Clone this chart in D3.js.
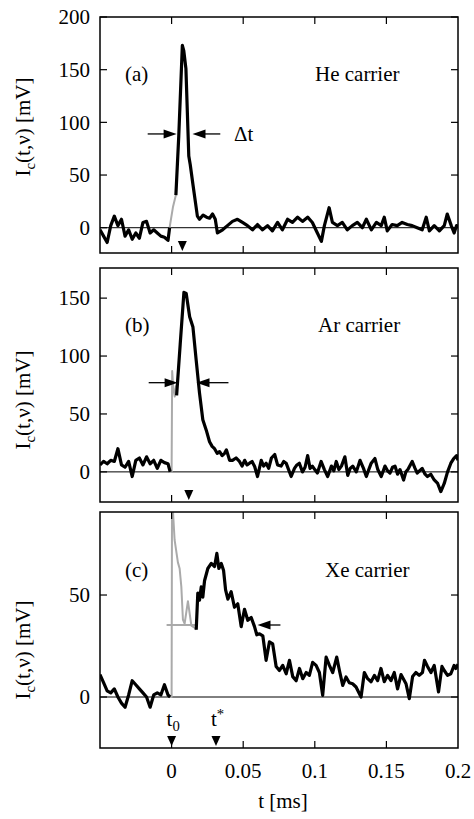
<!DOCTYPE html>
<html>
<head>
<meta charset="utf-8">
<script src="https://cdn.jsdelivr.net/npm/d3@7"></script>
<style>
  body { margin: 0; background: #fff; }
</style>
</head>
<body>
<div id="chart"></div>
<script>
// ================================
// Data (time in µs, signal in mV)
// ================================
const timeTicks = [0, 50, 100, 150];
const timeTickLabels = ['0', '0.05', '0.1', '0.15', '0.2'];
const timeLabelAt = [0, 50, 100, 150, 200];

// (a) He carrier — null marks where the gray part takes over
const heTrace = [
  [-50, -2], [-47.5, -8], [-45, -14], [-42.5, 2], [-40, 11], [-37.5, 2], [-35, 8], [-32.5, -8],
  [-30, -2], [-27.5, -11], [-25, -5], [-22.5, -10], [-20, 5], [-17.5, 6], [-15, -5], [-12.5, -2],
  [-10, -5], [-7.5, -8], [-5, -9], [-2.5, -12], [-1.4, 0], [0, null],
  [3, 31], [5, 87], [7.5, 173], [8.5, 168], [10, 151], [12, 68], [13, 60], [15, 40], [18, 11],
  [19.5, 8], [22, 12], [24.4, 10], [26.5, 9], [28.6, 13], [30.5, 8], [32, -5], [35.6, -2], [39, 2],
  [42.5, 6], [46, 8], [49.5, 5], [53, 2], [56.5, -2], [60, 3], [63.5, -2], [67, 2], [70.4, -3],
  [74, 5], [77.4, -2], [81, 8], [84.4, 5], [88, 10], [91.4, 6], [95, 10], [98.3, 5], [101.8, -5],
  [104.6, -13], [106.7, 2], [110, 19], [112.3, 5], [115.8, 2], [119.2, 5], [122.7, -2], [126.2, 2],
  [129.7, 5], [133.2, 0], [136, 8], [139.5, -2], [143, 5], [146.4, 2], [148.5, 10], [150.6, -3],
  [154, 3], [157.6, 2], [161, 5], [164.6, 3], [168, 2], [171.5, 0], [175, -2], [177.8, 10],
  [180, -3], [183.4, 2], [187, -3], [190.4, 2], [192.5, 13], [195.3, 2], [197.3, -5], [199, 2], [200, 0]
];
const heGray = [[-1.4, 0], [1, 20], [3, 31]];
const heYTicks = [0, 50, 100, 150, 200];
const heArrows = [[-16.7, 3.5], [34, 14.6]];
const heArrowLevel = 89;
const heMarkers = [7.5];

// (b) Ar carrier
const arTrace = [
  [-50, 6], [-47.5, 9], [-45, 7], [-42.5, 10], [-40, 9], [-37.5, 20], [-35, 6], [-32.5, 4], [-30, 9],
  [-27.5, -4], [-25, 10], [-22.5, 12], [-20, 6], [-17.5, 13], [-15, 7], [-12.5, 10], [-10, 3],
  [-7.5, 10], [-5, 8], [-2.5, 7], [-1, 0], [0, null],
  [3.5, 66], [6, 110], [8.6, 155], [10.2, 154], [12.6, 134], [14.9, 125], [17.2, 96], [19.5, 68],
  [21.8, 45], [24.2, 36], [26.5, 26], [28.3, 22], [30, 20], [31.8, 16], [33.5, 17.5], [35.3, 14],
  [37, 16], [38.3, 19], [40.5, 10], [42.5, 10], [45, 12], [47.4, 9], [49.2, 5], [51, 10], [52.7, 6],
  [54.4, 7.5], [56.2, 9], [58, 4.6], [60, -4], [62.6, 10], [64.3, 5], [66, 7.5], [67.8, 3], [69.7, 12],
  [72, 15], [74, 6], [76.5, 5], [78.3, 9], [80, 7.5], [81.7, 2], [83.5, -4], [85.8, 3], [87.5, 6],
  [89.2, 7.5], [91.4, 0], [93.2, 4], [95, 14], [96.7, 3], [98.3, 5], [100, 2], [101.8, -1], [104.4, 9],
  [106.7, 2], [109, -4], [111.6, 5], [113.3, 1], [115, 9], [116.8, 2], [118.6, 5], [121, 13], [123, -3],
  [124.7, 3], [126.5, 5], [129, 0], [131.6, 10], [134, 3], [136, -4], [137.7, 2], [139.4, 7.5],
  [142, 11.5], [144, 2], [146.4, -4], [149, 5], [150.8, 1], [152.5, -1], [154.3, 4], [156, 5],
  [157.8, -2], [159.5, 2], [162, -7], [163.6, 0], [165, 2], [168, 9], [170, 3], [171.5, -1], [175, 3],
  [177, -2], [178.7, -4], [181, -2], [183.4, -7], [185.8, -10], [188, -17], [190.4, -10], [192.7, 0],
  [195, 7.5], [197, 11.5], [199, 14], [200, 10]
];
const arGray = [[-1, 0], [0, 0], [0.4, 87], [1.2, 72], [2.2, 65], [3, 74], [3.5, 66]];
const arYTicks = [0, 50, 100, 150];
const arArrows = [[-16, 4.2], [39.7, 17.4]];
const arArrowLevel = 77;
const arMarkers = [12];

// (c) Xe carrier
const xeTrace = [
  [-50, 11], [-47.5, 7], [-45, 3], [-42.5, 2], [-40, 4], [-37.5, 0], [-35, -3], [-32.5, -5], [-30, 1],
  [-27.5, 8], [-25, 6], [-22.5, 4], [-20, 2], [-17.5, 0], [-15, -5], [-12.5, 1], [-10, 2], [-7.5, 1],
  [-5, 6], [-2.5, 1], [-1, 0], [0, null],
  [17.2, 33], [18.3, 51], [19.5, 47.5], [20.7, 54], [21.8, 49], [23, 57], [25.3, 63], [27.7, 65.5],
  [30, 64], [31.6, 70.4], [33, 63], [34.7, 65.5], [36.3, 62], [37.7, 52.5], [39.3, 48], [41.6, 51.6],
  [43.9, 44], [46.2, 45.7], [48.6, 34.5], [50.9, 43], [53.2, 37.6], [55.6, 39], [57.9, 34.5],
  [59.5, 30.5], [61.4, 31], [63.7, 30], [66, 18], [68.3, 27], [70.6, 26], [73, 15], [75.3, 13],
  [77.6, 15.5], [80, 11.4], [82.3, 18], [84.6, 10], [87, 8], [89.3, 14], [91.6, 9], [94, 12],
  [96.2, 10.6], [98.5, 17], [100.9, 15.5], [103.2, 12], [105.5, 0.8], [107.9, 19.6], [110.2, 15.5],
  [112.5, 12], [115.3, 19.6], [117.2, 13], [119.5, 5.7], [121.8, 9.8], [124.1, 7], [126.4, 6.5],
  [128.8, 4.9], [132.3, 0], [134.6, 12], [136.9, 9], [139.3, 7.5], [141.6, 10.6], [143.9, 8],
  [146.2, 14], [148.5, 7.5], [150.8, 10.6], [153.2, 8], [155.5, 12], [157.8, 4], [160.2, 11],
  [163.7, 6.5], [166, -0.8], [168.3, 10], [170.6, 12], [172.9, 10.6], [175.2, 12], [176.6, 18],
  [178.7, 15], [181.1, 12], [183.4, 15.5], [186.4, 2.5], [188.8, 15], [190.4, 13], [192.7, 10.6],
  [195, 11.4], [197.3, 15.5], [198.5, 14], [200, 16]
];
const xeGray = [
  [-1, 0], [0, 0], [0.3, 100], [1.2, 88], [2.1, 77], [4.4, 66], [5.6, 63], [6.8, 54], [7.9, 38],
  [9.1, 36], [11.4, 47], [12.6, 41], [13.8, 35], [16, 34], [17.2, 33]
];
const xeGrayLevel = [[-3.5, 35.3], [17.2, 35.3]];
const xeYTicks = [0, 50];
const xeArrows = [[76, 60]];
const xeArrowLevel = 35.3;
const xeMarkers = [0, 31];
const xeMarkerLabels = [['t', '0', 'sub'], ['t', '*', 'sup']];

// ================================
// Layout
// ================================
const W = 474, H = 819;
const FONT = 21;
const FAMILY = '"Liberation Serif", "DejaVu Serif", serif';

const panels = [
  { top: 17, bottom: 253, domain: [-24, 200], ticks: heYTicks, trace: heTrace, grays: [heGray],
    tag: '(a)', gas: 'He carrier', labelY: 81, gasX: 315, arrows: heArrows, arrowLevel: heArrowLevel,
    markers: heMarkers, titleY: 127, delta: true },
  { top: 268, bottom: 502, domain: [-26, 176], ticks: arYTicks, trace: arTrace, grays: [arGray],
    tag: '(b)', gas: 'Ar carrier', labelY: 332, gasX: 318, arrows: arArrows, arrowLevel: arArrowLevel,
    markers: arMarkers, titleY: 400 },
  { top: 512, bottom: 748, domain: [-25, 90.7], ticks: xeYTicks, trace: xeTrace, grays: [xeGray, xeGrayLevel],
    tag: '(c)', gas: 'Xe carrier', labelY: 577, gasX: 325, arrows: xeArrows, arrowLevel: xeArrowLevel,
    markers: xeMarkers, markerLabels: xeMarkerLabels, titleY: 650 }
];

const svg = d3.select('#chart')
  .append('svg')
  .attr('width', W)
  .attr('height', H)
  .attr('font-family', FAMILY);

const x = d3.scaleLinear().domain([-50, 200]).range([100, 458]);
const left = x.range()[0], right = x.range()[1];
const tickLen = 7;

panels.forEach((p, k) => {
  const y = d3.scaleLinear().domain(p.domain).range([p.bottom, p.top]);
  const g = svg.append('g');

  const clipId = `clip-${k}`;
  svg.append('clipPath').attr('id', clipId)
    .append('rect')
    .attr('x', left).attr('y', p.top)
    .attr('width', right - left).attr('height', p.bottom - p.top);

  // zero line
  g.append('line')
    .attr('x1', left).attr('x2', right)
    .attr('y1', y(0)).attr('y2', y(0))
    .attr('stroke', '#000').attr('stroke-width', 1);

  const line = d3.line()
    .defined(d => d[1] !== null)
    .x(d => x(d[0]))
    .y(d => y(d[1]));

  // gray (early) part of the signal
  p.grays.forEach(seg => {
    g.append('path')
      .datum(seg)
      .attr('clip-path', `url(#${clipId})`)
      .attr('fill', 'none')
      .attr('stroke', '#aaa')
      .attr('stroke-width', 2)
      .attr('stroke-linejoin', 'round')
      .attr('d', line);
  });

  // black trace
  g.append('path')
    .datum(p.trace)
    .attr('clip-path', `url(#${clipId})`)
    .attr('fill', 'none')
    .attr('stroke', '#000')
    .attr('stroke-width', 3.2)
    .attr('stroke-linejoin', 'round')
    .attr('d', line);

  // frame
  g.append('rect')
    .attr('x', left).attr('y', p.top)
    .attr('width', right - left).attr('height', p.bottom - p.top)
    .attr('fill', 'none').attr('stroke', '#000').attr('stroke-width', 1.5);

  // inward ticks: x on top/bottom, y on left/right
  timeTicks.forEach(t => {
    g.append('line').attr('x1', x(t)).attr('x2', x(t))
      .attr('y1', p.top).attr('y2', p.top + tickLen)
      .attr('stroke', '#000').attr('stroke-width', 1.2);
    g.append('line').attr('x1', x(t)).attr('x2', x(t))
      .attr('y1', p.bottom).attr('y2', p.bottom - tickLen)
      .attr('stroke', '#000').attr('stroke-width', 1.2);
  });
  p.ticks.forEach(v => {
    g.append('line').attr('x1', left).attr('x2', left + tickLen)
      .attr('y1', y(v)).attr('y2', y(v))
      .attr('stroke', '#000').attr('stroke-width', 1.2);
    g.append('line').attr('x1', right).attr('x2', right - tickLen)
      .attr('y1', y(v)).attr('y2', y(v))
      .attr('stroke', '#000').attr('stroke-width', 1.2);
    g.append('text')
      .attr('x', left - 10)
      .attr('y', y(v))
      .attr('dy', '0.35em')
      .attr('text-anchor', 'end')
      .attr('font-size', FONT)
      .text(v);
  });

  // y-axis title
  const title = g.append('text')
    .attr('transform', `translate(30,${p.titleY}) rotate(-90)`)
    .attr('text-anchor', 'middle')
    .attr('font-size', FONT);
  title.append('tspan').text('I');
  title.append('tspan').attr('dy', 5).attr('font-size', FONT * 0.7).text('c');
  title.append('tspan').attr('dy', -5).text('(t,ν) [mV]');

  // panel tag and gas label
  g.append('text').attr('x', 125).attr('y', p.labelY)
    .attr('font-size', FONT).text(p.tag);
  g.append('text').attr('x', p.gasX).attr('y', p.labelY)
    .attr('font-size', FONT).text(p.gas);

  // width arrows
  p.arrows.forEach(([from, to]) => {
    const ay = y(p.arrowLevel);
    const dir = Math.sign(x(to) - x(from));
    g.append('line')
      .attr('x1', x(from)).attr('x2', x(to) - dir * 6)
      .attr('y1', ay).attr('y2', ay)
      .attr('stroke', '#000').attr('stroke-width', 1.3);
    g.append('path')
      .attr('d', `M${x(to)},${ay}L${x(to) - dir * 13},${ay - 4.5}L${x(to) - dir * 13},${ay + 4.5}Z`)
      .attr('fill', '#000');
  });
  if (p.delta) {
    g.append('text').attr('x', 234).attr('y', y(p.arrowLevel) + 7)
      .attr('font-size', FONT).text('Δt');
  }

  // time markers at the bottom
  p.markers.forEach((t, i) => {
    const tip = p.bottom - 2;
    g.append('path')
      .attr('d', `M${x(t)},${tip}L${x(t) - 4.5},${tip - 10}L${x(t) + 4.5},${tip - 10}Z`)
      .attr('fill', '#000');
    if (p.markerLabels) {
      const [base, mark, kind] = p.markerLabels[i];
      const lbl = g.append('text')
        .attr('x', x(t) - 5).attr('y', tip - 20)
        .attr('font-size', FONT);
      lbl.append('tspan').text(base);
      lbl.append('tspan')
        .attr('dy', kind === 'sub' ? 5 : -7)
        .attr('font-size', FONT * 0.7)
        .text(mark);
    }
  });
});

// x tick labels and axis title under the last panel
const last = panels[panels.length - 1];
timeLabelAt.forEach((t, i) => {
  svg.append('text')
    .attr('x', x(t)).attr('y', last.bottom + 30)
    .attr('text-anchor', 'middle')
    .attr('font-size', FONT)
    .text(timeTickLabels[i]);
});
svg.append('text')
  .attr('x', 283).attr('y', last.bottom + 60)
  .attr('text-anchor', 'middle')
  .attr('font-size', FONT)
  .text('t [ms]');
</script>
</body>
</html>
